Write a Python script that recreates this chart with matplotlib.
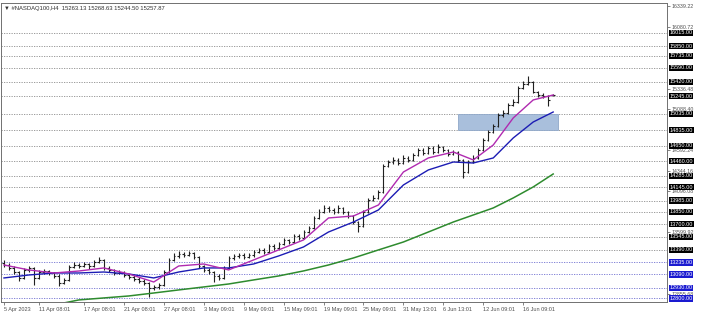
import numpy as np
import matplotlib.pyplot as plt
import matplotlib.transforms as mtransforms
from matplotlib.patches import Rectangle

# H4 bars of #NASDAQ100 (one entry per drawn bar)
bar_open = [13230, 13205, 13169, 13120, 13048, 13145, 13169, 13048, 13120, 13132,
            13108, 13072, 12987, 13024, 13181, 13205, 13193, 13217, 13193, 13241,
            13266, 13169, 13145, 13108, 13120, 13084, 13060, 13036, 13011, 12987,
            12927, 12939, 12963, 13120, 13266, 13314, 13338, 13326, 13350, 13302,
            13193, 13145, 13120, 13072, 13048, 13169, 13290, 13314, 13326, 13302,
            13326, 13362, 13387, 13362, 13435, 13411, 13459, 13508, 13483, 13556,
            13532, 13604, 13653, 13774, 13846, 13895, 13871, 13846, 13895, 13846,
            13798, 13725, 13677, 13846, 13992, 14016, 14088, 14403, 14451, 14476,
            14439, 14500, 14476, 14536, 14597, 14560, 14621, 14572, 14633, 14597,
            14548, 14572, 14476, 14330, 14451, 14500, 14597, 14718, 14814, 14887,
            15020, 15044, 15141, 15177, 15347, 15395, 15419, 15298, 15262, 15250,
            15263.13]
bar_high = [13262, 13228, 13190, 13135, 13170, 13195, 13182, 13150, 13160, 13150,
            13125, 13090, 13045, 13200, 13235, 13225, 13245, 13230, 13270, 13300,
            13280, 13190, 13160, 13145, 13135, 13100, 13080, 13055, 13030, 13000,
            12965, 12990, 13140, 13290, 13345, 13370, 13360, 13375, 13365, 13315,
            13210, 13165, 13135, 13095, 13190, 13310, 13340, 13355, 13345, 13350,
            13390, 13415, 13405, 13460, 13455, 13485, 13535, 13525, 13580, 13575,
            13630, 13680, 13800, 13880, 13930, 13915, 13890, 13925, 13910, 13860,
            13815, 13740, 13870, 14015, 14050, 14115, 14430, 14480, 14510, 14495,
            14530, 14520, 14565, 14625, 14615, 14650, 14640, 14665, 14650, 14610,
            14600, 14590, 14490, 14475, 14530, 14620, 14745, 14840, 14915, 15045,
            15080, 15170, 15210, 15370, 15430, 15492, 15435, 15315, 15290, 15265,
            15268.63]
bar_low = [13180, 13150, 13095, 13010, 13030, 13125, 12960, 13035, 13100, 13085,
           13050, 12950, 12970, 13010, 13165, 13170, 13180, 13160, 13185, 13230,
           13140, 13120, 13085, 13090, 13060, 13040, 13015, 12990, 12960, 12818,
           12900, 12920, 12950, 13110, 13250, 13295, 13300, 13310, 13280, 13170,
           13120, 13095, 13000, 13020, 13035, 13155, 13270, 13295, 13280, 13285,
           13305, 13345, 13340, 13350, 13390, 13395, 13445, 13460, 13470, 13510,
           13520, 13590, 13640, 13760, 13830, 13850, 13820, 13830, 13820, 13775,
           13700, 13604, 13665, 13830, 13975, 14000, 14075, 14385, 14430, 14415,
           14425, 14455, 14460, 14520, 14535, 14545, 14550, 14560, 14575, 14525,
           14530, 14450, 14258, 14315, 14435, 14485, 14580, 14700, 14800, 14870,
           15000, 15030, 15125, 15160, 15330, 15380, 15280, 15240, 15225, 15130,
           15244.50]
bar_close = [13205, 13169, 13120, 13048, 13145, 13169, 13048, 13120, 13132, 13108,
             13072, 12987, 13024, 13181, 13205, 13193, 13217, 13193, 13241, 13266,
             13169, 13145, 13108, 13120, 13084, 13060, 13036, 13011, 12987, 12927,
             12939, 12963, 13120, 13266, 13314, 13338, 13326, 13350, 13302, 13193,
             13145, 13120, 13072, 13048, 13169, 13290, 13314, 13326, 13302, 13326,
             13362, 13387, 13362, 13435, 13411, 13459, 13508, 13483, 13556, 13532,
             13604, 13653, 13774, 13846, 13895, 13871, 13846, 13895, 13846, 13798,
             13725, 13677, 13846, 13992, 14016, 14088, 14403, 14451, 14476, 14439,
             14500, 14476, 14536, 14597, 14560, 14621, 14572, 14633, 14597, 14548,
             14572, 14476, 14330, 14451, 14500, 14597, 14718, 14814, 14887, 15020,
             15044, 15141, 15177, 15347, 15395, 15419, 15298, 15262, 15250, 15202,
             15257.87]

# moving averages, sampled at these bar numbers
ma_idx = [0, 5, 10, 15, 20, 25, 30, 35, 40, 45, 50, 55, 60, 65, 70, 75, 80, 85, 90,
          94, 98, 102, 106, 110]
ma_fast = [13205, 13145, 13108, 13132, 13169, 13096, 12999, 13193, 13217, 13145,
           13266, 13387, 13508, 13774, 13798, 13931, 14330, 14500, 14572,
           14476, 14657, 14984, 15202, 15262]
ma_mid = [13048, 13084, 13108, 13108, 13120, 13096, 13048, 13120, 13169, 13169,
          13217, 13314, 13423, 13604, 13725, 13871, 14173, 14355, 14451,
          14439, 14500, 14742, 14935, 15056]
ma_slow = [12600, 12661, 12721, 12782, 12806, 12830, 12866, 12903, 12939, 12975,
           13024, 13072, 13133, 13205, 13290, 13387, 13483, 13604, 13725,
           13810, 13895, 14016, 14149, 14306]

# horizontal levels
levels_black = [16015, 15850, 15735, 15590, 15420, 15245, 15035, 14835, 14650,
                14460, 14285, 14145, 13985, 13850, 13700, 13545, 13390]
levels_blue = [13235, 13090, 12930, 12800]
scale_labels = [16339.22, 16080.72, 15336.48, 15088.40, 14592.24, 14344.16,
                14096.08, 13599.92, 12855.68]

# zone box: first bar, last bar, low, high
zone_bars = [91, 111]
zone_prices = [14835, 15035]

date_ticks = [0, 7, 16, 24, 32, 40, 48, 56, 64, 72, 80, 88, 96, 104]
date_labels = ['5 Apr 2023', '11 Apr 08:01', '17 Apr 08:01', '21 Apr 08:01',
               '27 Apr 08:01', '3 May 09:01', '9 May 09:01', '15 May 09:01',
               '19 May 09:01', '25 May 09:01', '31 May 13:01', '6 Jun 13:01',
               '12 Jun 09:01', '16 Jun 09:01']

plt.rcParams['font.family'] = ['Liberation Sans', 'DejaVu Sans']

fig = plt.figure(figsize=(7.03, 3.17), dpi=100)
ax = fig.add_axes([1 / 703, 15 / 317, 666 / 703, 299 / 317])
ax.set_xlim(-0.6, 132.8)
ax.set_ylim(12757, 16375)

# levels
for lv in levels_black:
    ax.axhline(lv, color='#8c8c8c', lw=0.6, ls=(0, (1.5, 1.5)), zorder=1)
for lv in levels_blue:
    ax.axhline(lv, color='#7070d0', lw=0.6, ls=(0, (1.5, 1.5)), zorder=1)

# zone
ax.add_patch(Rectangle((zone_bars[0], zone_prices[0]), zone_bars[1] - zone_bars[0],
                       zone_prices[1] - zone_prices[0],
                       facecolor='#a9bfdc', edgecolor='#8fa8c8', lw=0.6, zorder=2))

# OHLC bars
x = np.arange(len(bar_close))
ax.vlines(x, bar_low, bar_high, color='#202020', lw=0.8, zorder=3)
ax.hlines(bar_open, x - 0.35, x, color='#202020', lw=0.8, zorder=3)
ax.hlines(bar_close, x, x + 0.35, color='#202020', lw=0.8, zorder=3)

# moving averages
ax.plot(ma_idx, ma_slow, color='#2e8b2e', lw=1.1, zorder=4)
ax.plot(ma_idx, ma_mid, color='#1c1cb4', lw=1.0, zorder=4)
ax.plot(ma_idx, ma_fast, color='#b02ab0', lw=1.0, zorder=5)

# axes look
for s in ['left', 'top', 'bottom', 'right']:
    ax.spines[s].set_color('#707070')
    ax.spines[s].set_linewidth(0.7)
ax.yaxis.tick_right()
ax.set_yticks(scale_labels)
ax.set_yticklabels(['%.2f' % v for v in scale_labels])
ax.tick_params(axis='y', labelsize=3.8, length=2, width=0.5, pad=1.5,
               colors='#505050')
ax.set_xticks(date_ticks)
ax.set_xticklabels(date_labels, ha='left')
ax.tick_params(axis='x', labelsize=4, length=2, width=0.5, pad=1.5,
               colors='#505050')

# price tags on the right
trans = mtransforms.blended_transform_factory(ax.transAxes, ax.transData)
for lv in levels_black:
    ax.text(1.004, lv, '%.2f' % lv, transform=trans, fontsize=4, color='white',
            va='center', ha='left', clip_on=False, zorder=10,
            bbox=dict(boxstyle='square,pad=0.1', fc='black', ec='none'))
for lv in levels_blue:
    ax.text(1.004, lv, '%.2f' % lv, transform=trans, fontsize=4, color='white',
            va='center', ha='left', clip_on=False, zorder=10,
            bbox=dict(boxstyle='square,pad=0.1', fc='#1a1ad0', ec='none'))

ax.text(0.004, 0.99, '\u25bc #NASDAQ100,H4  15263.13 15268.63 15244.50 15257.87',
        transform=ax.transAxes, fontsize=4.2, color='#303030', va='top', ha='left',
        family=['Liberation Sans', 'DejaVu Sans'])

fig.savefig('out.png', dpi=100)
